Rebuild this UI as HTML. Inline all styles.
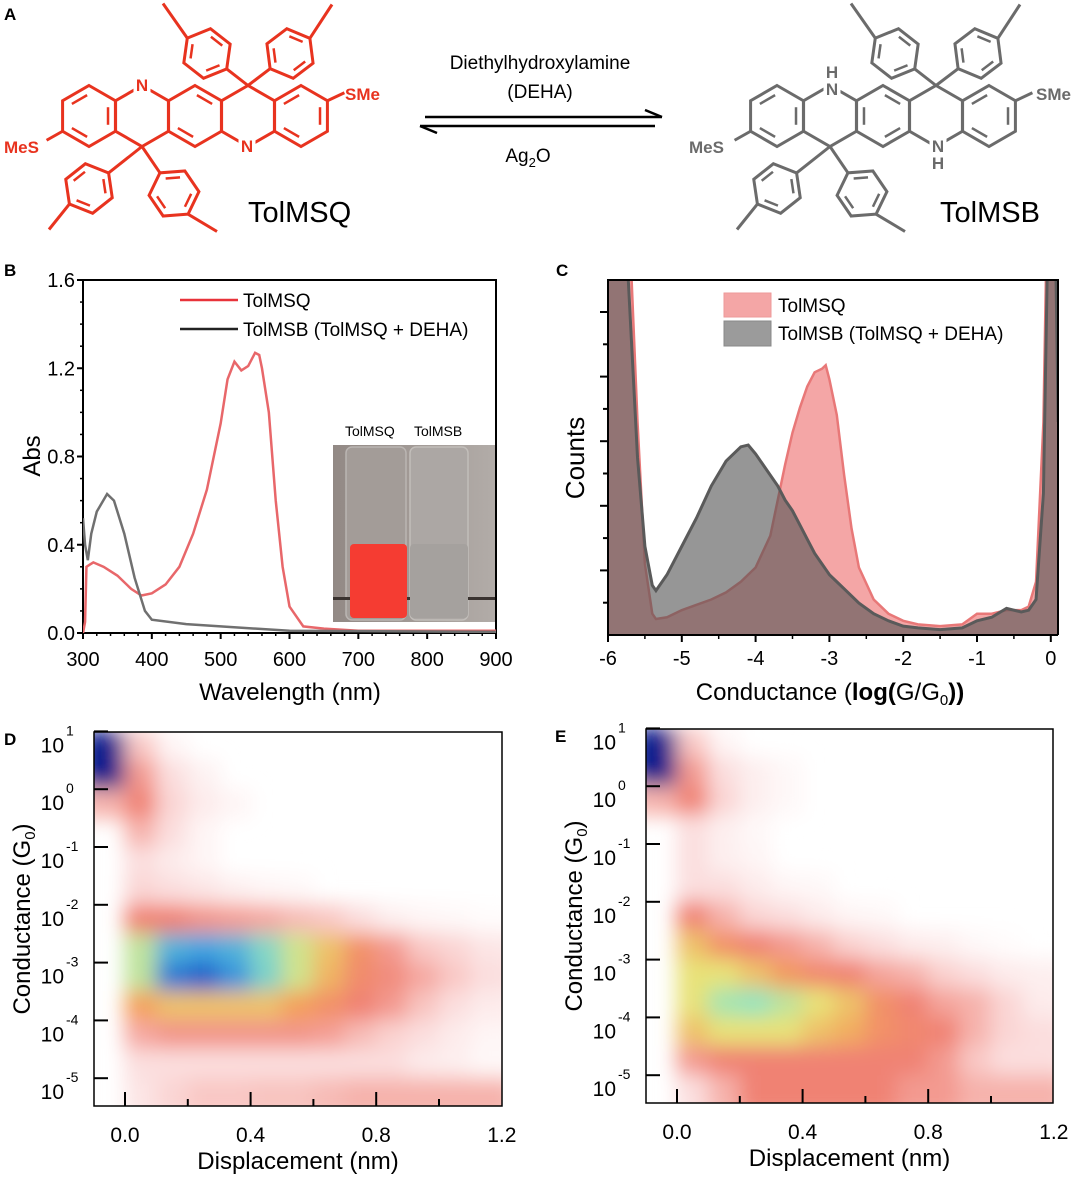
<!DOCTYPE html>
<html><head><meta charset="utf-8">
<style>
html,body{margin:0;padding:0;background:#fff;}
svg{display:block;font-family:"Liberation Sans",Arial,sans-serif;}
</style></head>
<body>
<svg id="fig" width="1080" height="1180" viewBox="0 0 1080 1180" xmlns="http://www.w3.org/2000/svg">
<defs>
  <clipPath id="clipC"><rect x="608" y="280" width="450" height="355"/></clipPath>
  <clipPath id="clipB"><rect x="83" y="280" width="413" height="353"/></clipPath>
  <clipPath id="clipD"><rect x="94" y="732" width="408" height="374"/></clipPath>
  <clipPath id="clipE"><rect x="646" y="729" width="407" height="374"/></clipPath>
  <filter id="blur" x="-10%" y="-10%" width="120%" height="120%"><feGaussianBlur stdDeviation="10"/></filter>
  <linearGradient id="photoBg" x1="0" y1="0" x2="1" y2="0"><stop offset="0" stop-color="#928985"/><stop offset="1" stop-color="#b2aca8"/></linearGradient>
</defs>

<g font-weight="bold" font-size="17" fill="#000">
<text x="4" y="20">A</text>
<text x="4" y="276">B</text>
<text x="556" y="276">C</text>
<text x="4" y="745">D</text>
<text x="555" y="742">E</text>
</g>

<g id="molQ" stroke="#e8331f" stroke-width="3" fill="none"></g>
<g id="molB" stroke="#6b6b6b" stroke-width="3" fill="none"></g>
<g font-weight="bold" font-size="17" text-anchor="middle" stroke="#fff" stroke-width="7" paint-order="stroke">
<text x="142" y="91" fill="#e8331f">N</text>
<text x="247" y="152" fill="#e8331f">N</text>
<text x="832" y="78" fill="#6b6b6b">H</text>
<text x="832" y="95" fill="#6b6b6b">N</text>
<text x="938" y="152" fill="#6b6b6b">N</text>
<text x="938" y="169" fill="#6b6b6b">H</text>
</g>
<g font-weight="bold" font-size="17">
<text x="345" y="100" fill="#e8331f">SMe</text>
<text x="4" y="153" fill="#e8331f">MeS</text>
<text x="1036" y="100" fill="#6b6b6b">SMe</text>
<text x="689" y="153" fill="#6b6b6b">MeS</text>
</g>
<text x="248" y="222" font-size="29">TolMSQ</text>
<text x="940" y="222" font-size="29">TolMSB</text>
<text x="540" y="69" font-size="19" text-anchor="middle">Diethylhydroxylamine</text>
<text x="540" y="98" font-size="19" text-anchor="middle">(DEHA)</text>
<text x="528" y="162" font-size="19" text-anchor="middle">Ag<tspan font-size="13" dy="5">2</tspan><tspan dy="-5">O</tspan></text>
<g stroke="#000" stroke-width="2.5" fill="none">
<line x1="425" y1="117" x2="662" y2="117"/><polyline points="645,110 662,117" />
<line x1="420" y1="126" x2="655" y2="126"/><polyline points="437,133 420,126"/>
</g>

<g id="panelB"></g>
<g id="panelC"></g>
<g id="panelD"></g>
<g id="panelE"></g>
</svg>

<script>
// ===== Panel B data =====
const bWaveQ = [300,303,305,310,315,330,350,370,385,400,420,440,460,480,500,510,520,530,540,550,556,560,570,580,590,600,620,650,700,900];
const bAbsQ  = [0,0.05,0.3,0.31,0.32,0.30,0.26,0.20,0.17,0.18,0.22,0.30,0.45,0.65,0.95,1.15,1.23,1.19,1.21,1.27,1.26,1.2,1.0,0.6,0.3,0.12,0.03,0.02,0.01,0.01];
const bWaveB = [300,303,307,312,320,335,345,360,375,390,400,450,500,600,900];
const bAbsB  = [0.52,0.40,0.33,0.45,0.55,0.63,0.60,0.45,0.25,0.10,0.06,0.04,0.03,0.01,0.005];
const bXTicks = [300,400,500,600,700,800,900];
const bYTicks = [0,0.4,0.8,1.2,1.6];
// ===== Panel C data =====
const cLogG = [-6,-5.8,-5.7,-5.6,-5.5,-5.4,-5.35,-5.2,-5,-4.8,-4.6,-4.4,-4.2,-4.1,-4,-3.8,-3.7,-3.6,-3.5,-3.4,-3.3,-3.2,-3.1,-3.05,-3,-2.9,-2.8,-2.7,-2.6,-2.4,-2.2,-2,-1.8,-1.5,-1.2,-1,-0.8,-0.6,-0.4,-0.3,-0.2,-0.1,-0.05,0,0.05,0.1];
const cCountsQ = [130,130,110,60,20,6,4.5,5,7,8.5,10,12,15,17,19,28,38,48,57,64,70,74,75,76,72,62,45,30,19,10,6,4,3,2.5,3,6,6,7,7,8,15,60,120,130,130,80];
const cCountsB = [130,130,90,50,25,14,12.5,17,25,33,42,49,53,53.5,51,45,42,38,35,31,27,23,20,18.5,17,15,13,11,9,6,4,2.5,2,1.5,2,4,5,7.5,6.5,7,10,40,100,130,130,60];
const cXTicks = [-6,-5,-4,-3,-2,-1,0];
// ===== Panel D/E data =====
const hmRowsLogG = [0.75,0.25,-0.25,-0.75,-1.25,-1.75,-2.25,-2.75,-3.25,-3.75,-4.25,-4.75,-5.25];
const hmColsDisp = [-0.05,0.05,0.15,0.25,0.35,0.45,0.55,0.65,0.75,0.85,0.95,1.05,1.15];
const densityD = [
 [9,1.5,0.3,0,0,0,0,0,0,0,0,0,0],
 [9,2.5,1,0.4,0,0,0,0,0,0,0,0,0],
 [2,3,1.2,0.6,0.3,0,0,0,0,0,0,0,0],
 [0,2,1,0.3,0,0,0,0,0,0,0,0,0],
 [0,1,0.6,0.3,0,0,0,0,0,0,0,0,0],
 [0,1.2,1,0.8,0.5,0.3,0.2,0,0,0,0,0,0],
 [0,3,3,2.6,2.4,2.2,1.8,1.5,1,0.5,0.3,0.2,0.1],
 [0,5.5,6.8,7,6.8,6.2,5.3,4.5,3.5,2.5,1.5,1.2,0.8],
 [0,5.5,7.5,7.8,7.2,6.3,5.3,4.3,3.3,2.8,2.2,1.5,1],
 [0,4,4.5,4.5,4.5,4.5,4,3.5,3,2.5,1.6,1,0.6],
 [0,2.2,2.6,2.6,2.6,2.6,2.6,2.4,1.8,1.3,1,0.6,0.3],
 [0,1,1,1,1,1,1,1,1,1,0.6,0.5,0.2],
 [0,0.8,1.2,1.5,1.5,1.6,1.6,1.8,2,2,2,2,2]
];
const densityE = [
 [9,1.5,0.3,0,0,0,0,0,0,0,0,0,0],
 [9,2.5,1,0.5,0.2,0,0,0,0,0,0,0,0],
 [2,3,1.2,0.5,0.2,0,0,0,0,0,0,0,0],
 [0,1,0.5,0.2,0,0,0,0,0,0,0,0,0],
 [0,1,0.5,0.3,0,0,0,0,0,0,0,0,0],
 [0,1,1,0.6,0.3,0.2,0,0,0,0,0,0,0],
 [0,3,2,1.2,1,0.6,0.3,0.2,0,0,0,0,0],
 [0,4.5,3.5,3,2.5,2,1.3,1,0.6,0.5,0.2,0.1,0],
 [0,5,5,4.5,3.8,3.2,3,2.3,2,1.3,1,0.6,0.5],
 [0,5,5.8,6,5.5,5,4.5,3.5,3,2.3,2,1.2,0.6],
 [0,4.5,5,5,5,4.5,4.2,3.5,3.2,3,2,1.2,1],
 [0,2.5,3,3,3,3,3,3,3,2.5,1.5,1,1],
 [0,1,2,3,3,3,3,3,2.5,2.5,2,2,2]
];
const hmXTicks = [0.0,0.4,0.8,1.2];
const hmYTicks = [1,0,-1,-2,-3,-4,-5];

const NS = "http://www.w3.org/2000/svg";
function mk(tag, attrs, parent){
  const e = document.createElementNS(NS, tag);
  for (const k in attrs) e.setAttribute(k, attrs[k]);
  if (parent) parent.appendChild(e);
  return e;
}

// ================= Panel A structures =================
function hexPts(cx, cy, s, rot){
  const p=[]; for(let i=0;i<6;i++){const a=(rot+60*i-90)*Math.PI/180; p.push([cx+s*Math.cos(a), cy+s*Math.sin(a)]);} return p;
}
function ring(g, cx, cy, s, rot, inner){
  const p = hexPts(cx,cy,s,rot);
  mk('polygon',{points:p.map(q=>q.join(',')).join(' ')},g);
  inner.forEach(i=>{
    const a=p[i], b=p[(i+1)%6], f=0.72;
    const ax=cx+(a[0]-cx)*f, ay=cy+(a[1]-cy)*f, bx=cx+(b[0]-cx)*f, by=cy+(b[1]-cy)*f;
    const mx=(ax+bx)/2,my=(ay+by)/2;
    mk('line',{x1:mx+(ax-mx)*0.8,y1:my+(ay-my)*0.8,x2:mx+(bx-mx)*0.8,y2:my+(by-my)*0.8,'stroke-width':2.5},g);
  });
  return p;
}
function molecule(g, dx, quinoid){
  const s=30.5, cy=116, sp=53, c0=89;
  const centers=[0,1,2,3,4].map(i=>c0+i*sp);
  const t = mk('g',{transform:'translate('+dx+',0)'},g);
  centers.forEach((c,i)=>{
    let inner=[1,3,5];
    if(i===1||i===3) inner = [];
    if(i===2) inner = quinoid?[0,3]:[0,2,4];
    ring(t,c,cy,s,0,inner);
  });
  const topC=[centers[3],cy-s], botC=[centers[1],cy+s];
  const tol=[[topC,[-41,-32],[-85,-82]],[topC,[42,-32],[84,-81]],[botC,[-53,42],[-93,83]],[botC,[32,47],[75,85]]];
  tol.forEach(tt=>{
    const c=tt[0], rc=[c[0]+tt[1][0],c[1]+tt[1][1]], m=[c[0]+tt[2][0],c[1]+tt[2][1]];
    const ang=Math.atan2(rc[1]-c[1],rc[0]-c[0]);
    const s2=25;
    const ax=rc[0]-Math.cos(ang)*s2, ay=rc[1]-Math.sin(ang)*s2;
    const bx=rc[0]+Math.cos(ang)*s2, by=rc[1]+Math.sin(ang)*s2;
    mk('line',{x1:c[0],y1:c[1],x2:ax,y2:ay},t);
    const rot=ang*180/Math.PI+90;
    ring(t,rc[0],rc[1],s2,rot,[1,3,5]);
    mk('line',{x1:bx,y1:by,x2:m[0],y2:m[1]},t);
  });
  const r5=hexPts(centers[4],cy,s,0), r1=hexPts(centers[0],cy,s,0);
  mk('line',{x1:r5[1][0],y1:r5[1][1],x2:r5[1][0]+17,y2:r5[1][1]-8},t);
  mk('line',{x1:r1[4][0],y1:r1[4][1],x2:r1[4][0]-16,y2:r1[4][1]+9},t);
}
molecule(document.getElementById('molQ'),0,true);
molecule(document.getElementById('molB'),688,false);

// ================= Panel B =================
(function(){
  const g = document.getElementById('panelB');
  const x0=83,x1=496,y0=633,y1=280;
  const xB = w => x0 + (w-300)*(x1-x0)/600;
  const yB = a => y0 - a*(y0-y1)/1.6;
  const frame = mk('rect',{x:x0,y:y1,width:x1-x0,height:y0-y1,fill:'none',stroke:'#000','stroke-width':2},g);
  
  
  const ph = mk('g',{},g);
  
  
  mk('rect',{x:333,y:445,width:162,height:177,fill:'url(#photoBg)'},ph);
  mk('rect',{x:346,y:447,width:60,height:173,rx:6,fill:'#a39c98',stroke:'#bab5b2','stroke-width':1.5},ph);
  mk('rect',{x:410,y:447,width:58,height:173,rx:6,fill:'#aca7a4',stroke:'#c2beba','stroke-width':1.5},ph);
  mk('rect',{x:333,y:597,width:162,height:3,fill:'#3a3330'},ph);
  mk('rect',{x:350,y:544,width:57,height:74,rx:4,fill:'#f53c32'},ph);
  mk('rect',{x:410,y:544,width:58,height:74,rx:4,fill:'#a5a19e'},ph);
  const t1 = mk('text',{x:345,y:436,'font-size':14},g); t1.textContent='TolMSQ';
   
  const t2 = mk('text',{x:414,y:436,'font-size':14},g); t2.textContent='TolMSB';
   
  const lineQ = mk('polyline',{points:bWaveQ.map((w,i)=>xB(w)+','+yB(bAbsQ[i])).join(' '),fill:'none',stroke:'#e8676a','stroke-width':2.5,'clip-path':'url(#clipB)'},g);
   
  const lineB = mk('polyline',{points:bWaveB.map((w,i)=>xB(w)+','+yB(bAbsB[i])).join(' '),fill:'none',stroke:'#707070','stroke-width':2.5,'clip-path':'url(#clipB)'},g);
   
  bXTicks.forEach(v=>{
    mk('line',{x1:xB(v),y1:y0,x2:xB(v),y2:y0+6,stroke:'#000','stroke-width':2},g);
    const t = mk('text',{x:xB(v),y:y0+33,'font-size':20,'text-anchor':'middle'},g); t.textContent=v;
     
  });
  for(let w=320;w<900;w+=20){ if(w%100) mk('line',{x1:xB(w),y1:y0,x2:xB(w),y2:y0+3,stroke:'#000','stroke-width':1.5},g); }
  bYTicks.forEach(v=>{
    mk('line',{x1:x0-6,y1:yB(v),x2:x0,y2:yB(v),stroke:'#000','stroke-width':2},g);
    const t = mk('text',{x:x0-8,y:yB(v)+7,'font-size':20,'text-anchor':'end'},g); t.textContent=v.toFixed(1);
     
  });
  for(let a=0.1;a<1.6;a+=0.1){ mk('line',{x1:x0-3,y1:yB(a),x2:x0,y2:yB(a),stroke:'#000','stroke-width':1.5},g); }
  const xt = mk('text',{x:290,y:700,'font-size':24,'text-anchor':'middle'},g); xt.textContent='Wavelength (nm)';
   
  const yt = mk('text',{x:0,y:0,'font-size':24,'text-anchor':'middle',transform:'translate(40,456) rotate(-90)'},g); yt.textContent='Abs';
   
  mk('line',{x1:180,y1:300,x2:238,y2:300,stroke:'#e8333a','stroke-width':2.5},g);
  mk('line',{x1:180,y1:329,x2:238,y2:329,stroke:'#222','stroke-width':2.5},g);
  const l1 = mk('text',{x:243,y:307,'font-size':19},g); l1.textContent='TolMSQ';
   
  const l2 = mk('text',{x:243,y:336,'font-size':19},g); l2.textContent='TolMSB (TolMSQ + DEHA)';
   
})();

// ================= Panel C =================
(function(){
  const g = document.getElementById('panelC');
  const x0=608,x1=1058,y0=635,y1=280;
  const xC = v => x0 + (v+6)*73.8;
  const yC = c => y0 - c*3.55;
  function area(vals){
    let d='M'+xC(cLogG[0])+','+y0;
    cLogG.forEach((v,i)=>{ d+=' L'+xC(v)+','+yC(vals[i]); });
    d+=' L'+xC(cLogG[cLogG.length-1])+','+y0+' Z';
    return d;
  }
  function line(vals){ return cLogG.map((v,i)=>xC(v)+','+yC(vals[i])).join(' '); }
  const aq = mk('path',{d:area(cCountsQ),fill:'#f4a6a6','clip-path':'url(#clipC)'},g);
   
  const lq = mk('polyline',{points:line(cCountsQ),fill:'none',stroke:'#e87878','stroke-width':2.5,'clip-path':'url(#clipC)'},g);
   
  const ab = mk('path',{d:area(cCountsB),fill:'#555','fill-opacity':0.62,'clip-path':'url(#clipC)'},g);
   
  const lb = mk('polyline',{points:line(cCountsB),fill:'none',stroke:'#5a5a5a','stroke-width':3,'clip-path':'url(#clipC)'},g);
   
  const fr = mk('path',{d:'M'+x0+','+y0+' V'+y1+' H'+x1+' V'+y0,fill:'none',stroke:'#000','stroke-width':2},g);
   
  mk('line',{x1:x0,y1:y0,x2:x1,y2:y0,stroke:'#000','stroke-width':2},g);
  for(let k=1;k<11;k++){ const y=y0-k*32.3; mk('line',{x1:x0-(k%2===0?8:5),y1:y,x2:x0,y2:y,stroke:'#000','stroke-width':2},g); }
  cXTicks.forEach(v=>{
    mk('line',{x1:xC(v),y1:y0,x2:xC(v),y2:y0+7,stroke:'#000','stroke-width':2},g);
    const t = mk('text',{x:xC(v),y:y0+30,'font-size':20,'text-anchor':'middle'},g); t.textContent=v;
     
  });
  for(let v=-5.5;v<0;v+=1) mk('line',{x1:xC(v),y1:y0,x2:xC(v),y2:y0+4,stroke:'#000','stroke-width':1.5},g);
  const xt = mk('text',{x:830,y:700,'font-size':24,'text-anchor':'middle'},g);
  xt.innerHTML='Conductance (<tspan font-weight="bold">log(</tspan>G/G<tspan font-size="15" dy="5">0</tspan><tspan dy="-5" font-weight="bold">))</tspan>';
   
  const yt = mk('text',{x:0,y:0,'font-size':26,'text-anchor':'middle',transform:'translate(584,458) rotate(-90)'},g); yt.textContent='Counts';
   
  mk('rect',{x:724,y:293,width:47,height:24,fill:'#f4a6a6',stroke:'#e99','stroke-width':1},g);
  mk('rect',{x:724,y:321,width:47,height:25,fill:'#9b9b9b',stroke:'#888','stroke-width':1},g);
  const l1 = mk('text',{x:778,y:312,'font-size':19},g); l1.textContent='TolMSQ';
   
  const l2 = mk('text',{x:778,y:340,'font-size':19},g); l2.textContent='TolMSB (TolMSQ + DEHA)';
   
})();

// ================= Panels D/E =================
const cmap = [[255,255,255],[251,222,222],[246,178,172],[240,130,115],[244,160,90],[232,226,120],[150,228,190],[64,165,225],[20,80,195],[10,26,140]];
function colorFor(v){
  const i=Math.max(0,Math.min(8,Math.floor(v))), f=Math.max(0,Math.min(1,v-i));
  const a=cmap[i], b=cmap[Math.min(9,i+1)];
  return 'rgb('+a.map((c,k)=>Math.round(c+(b[k]-c)*f)).join(',')+')';
}
function heatPanel(id, clip, x0,x1,y1,y0, zeroX, perTenth, decadeRef, decadePx, mat, nameSuffix){
  const g = document.getElementById(id);
  const xS = d => zeroX + d*perTenth*10;
  const yS = lg => decadeRef - (lg+1)*decadePx;
  const cg = mk('g',{'clip-path':'url(#'+clip+')'},g);
  const bg = mk('g',{filter:'url(#blur)'},cg);
  const cw = perTenth, rh = decadePx*0.5;
  mat.forEach((row,ri)=>{
    row.forEach((v,ci)=>{
      if(v<=0) return;
      let x=xS(hmColsDisp[ci])-cw/2-0.5, w=cw+1;
      if(ci===0){ x-=12; w+=12; }
      if(ci===row.length-1){ w+=14; }
      let y=yS(hmRowsLogG[ri])-rh/2-0.5, h=rh+1;
      if(ri===mat.length-1) h+=14;
      const r = mk('rect',{x:x,y:y,width:w,height:h,fill:colorFor(v)},bg);
      
      
    });
  });
  const fr = mk('rect',{x:x0,y:y1,width:x1-x0,height:y0-y1,fill:'none',stroke:'#000','stroke-width':1.5},g);
   
  hmYTicks.forEach(v=>{
    const y=yS(v);
    mk('line',{x1:x0,y1:y,x2:x0+14,y2:y,stroke:'#000','stroke-width':2},g);
    const t = mk('text',{x:x0-30,y:y+21,'font-size':21,'text-anchor':'end'},g); t.textContent='10';
     
    const e = mk('text',{x:x0-28,y:y+4,'font-size':14,'text-anchor':'start'},g); e.textContent=String(v);
     
  });
  [0,0.2,0.4,0.6,0.8,1.0].forEach(v=>{
    const x=xS(v);
    mk('line',{x1:x,y1:y0,x2:x,y2:y0-(Math.round(v*10)%4===0?14:7),stroke:'#000','stroke-width':2},g);
  });
  hmXTicks.forEach(v=>{
    const t = mk('text',{x:xS(v),y:y0+36,'font-size':21,'text-anchor':'middle'},g); t.textContent=v.toFixed(1);
     
  });
  const xt = mk('text',{x:(x0+x1)/2,y:y0+63,'font-size':24,'text-anchor':'middle'},g); xt.textContent='Displacement (nm)';
   
  const yt = mk('text',{x:0,y:0,'font-size':24,'text-anchor':'middle',transform:'translate('+(x0-64)+','+((y0+y1)/2)+') rotate(-90)'},g);
  yt.innerHTML='Conductance (G<tspan font-size="15" dy="5">0</tspan><tspan dy="-5">)</tspan>';
   
}
heatPanel('panelD','clipD',94,502,732,1106,125,31.4,847,57.8,densityD,'d');
heatPanel('panelE','clipE',646,1053,729,1103,677,31.4,844,57.8,densityE,'e');
</script>
</body></html>
